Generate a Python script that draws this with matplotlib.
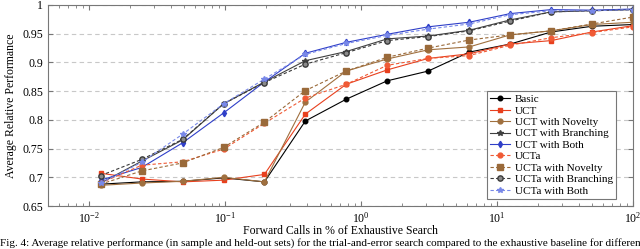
import matplotlib.pyplot as plt
import matplotlib.ticker as mticker
import numpy as np

plt.rcParams['font.family'] = ['Liberation Serif', 'DejaVu Serif']
plt.rcParams['mathtext.fontset'] = 'stix'

# forward calls in % of exhaustive search (halving from 100 %)
calls = [0.0122, 0.0244, 0.0488, 0.0977, 0.195, 0.39, 0.78, 1.56, 3.125, 6.25, 12.5, 25, 50, 100]

basic = [0.688, 0.692, 0.693, 0.699, 0.692, 0.798, 0.836, 0.868, 0.885, 0.918, 0.932, 0.953, 0.963, 0.966]
uct = [0.707, 0.697, 0.692, 0.695, 0.705, 0.810, 0.862, 0.887, 0.907, 0.915, 0.932, 0.938, 0.953, 0.964]
uct_nov = [0.686, 0.690, 0.693, 0.700, 0.692, 0.831, 0.885, 0.906, 0.922, 0.927, 0.948, 0.955, 0.966, 0.970]
uct_br = [0.690, 0.728, 0.765, 0.828, 0.866, 0.903, 0.919, 0.941, 0.946, 0.956, 0.974, 0.988, 0.990, 0.992]
uct_both = [0.695, 0.717, 0.760, 0.812, 0.866, 0.916, 0.935, 0.949, 0.962, 0.970, 0.985, 0.992, 0.991, 0.993]
ucta = [0.690, 0.721, 0.727, 0.749, 0.794, 0.838, 0.862, 0.895, 0.907, 0.912, 0.930, 0.943, 0.952, 0.962]
ucta_nov = [0.688, 0.711, 0.725, 0.752, 0.796, 0.851, 0.885, 0.909, 0.925, 0.939, 0.948, 0.955, 0.967, 0.979]
ucta_br = [0.703, 0.731, 0.766, 0.828, 0.865, 0.897, 0.917, 0.938, 0.945, 0.955, 0.972, 0.988, 0.990, 0.992]
ucta_both = [0.690, 0.726, 0.775, 0.828, 0.871, 0.914, 0.933, 0.947, 0.958, 0.967, 0.983, 0.990, 0.990, 0.992]

series = [
    ('Basic', basic, dict(color='black', ls='-', marker='o', ms=3.3)),
    ('UCT', uct, dict(color='#e8401e', ls='-', marker='s', ms=3.5)),
    ('UCT with Novelty', uct_nov, dict(color='#a0703f', ls='-', marker='o', ms=3.5)),
    ('UCT with Branching', uct_br, dict(color='#404040', ls='-', marker='*', ms=3.8)),
    ('UCT with Both', uct_both, dict(color='#2f3fc8', ls='-', marker='d', ms=3.3)),
    ('UCTa', ucta, dict(color='#f05a35', ls='--', marker='o', ms=3.5)),
    ('UCTa with Novelty', ucta_nov, dict(color='#9a6a3a', ls='--', marker='s', ms=3.8)),
    ('UCTa with Branching', ucta_br, dict(color='#3a3a3a', ls='--', marker='o', ms=3.8, mfc='#8a8a8a')),
    ('UCTa with Both', ucta_both, dict(color='#7888e8', ls='--', marker='*', ms=3.8)),
]

fig = plt.figure(figsize=(6.4, 2.49), dpi=100)
ax = fig.add_axes([48 / 640, 1 - 206 / 249, 585 / 640, 201 / 249])

for label, vals, style in series:
    ax.plot(calls, vals, label=label, lw=0.8, dashes=(3, 2) if style['ls'] == '--' else (None, None), **style)

ax.set_xscale('log')
ax.set_xlim(0.005, 100)
ax.set_ylim(0.65, 1.0)
ax.set_yticks(np.arange(0.65, 1.001, 0.05))
ax.yaxis.set_major_formatter(mticker.FuncFormatter(lambda v, p: '%g' % round(v, 2)))
ax.xaxis.set_major_locator(mticker.LogLocator(base=10, numticks=10))
ax.xaxis.set_minor_locator(mticker.LogLocator(base=10, subs=np.arange(2, 10), numticks=20))
ax.xaxis.set_minor_formatter(mticker.NullFormatter())

ax.grid(axis='y', ls=(0, (4, 3)), color='#c8c8c8', lw=0.8)
ax.tick_params(which='both', direction='in', top=True, right=True, labelsize=8.5, color='#777777')
ax.tick_params(which='major', length=3.5)
ax.tick_params(which='minor', length=2)
for s in ax.spines.values():
    s.set_color('#777777')

ax.set_ylabel('Average Relative Performance', fontsize=8.5, labelpad=4)
ax.set_xlabel('Forward Calls in % of Exhaustive Search', fontsize=8.5, labelpad=0)

leg = ax.legend(loc='lower right', bbox_to_anchor=(0.971, 0.035), fontsize=8, frameon=True,
                fancybox=False, framealpha=1, edgecolor='#777777', handlelength=1.8,
                labelspacing=0.15, borderpad=0.3, handletextpad=0.4, borderaxespad=0)
leg.get_frame().set_linewidth(0.8)

fig.text(0.0, 1 - 238 / 249, 'Fig. 4: Average relative performance (in sample and held-out sets) for the trial-and-error search compared to the exhaustive baseline for different',
         fontsize=8, va='top', ha='left')

fig.savefig('out.png', dpi=100)
